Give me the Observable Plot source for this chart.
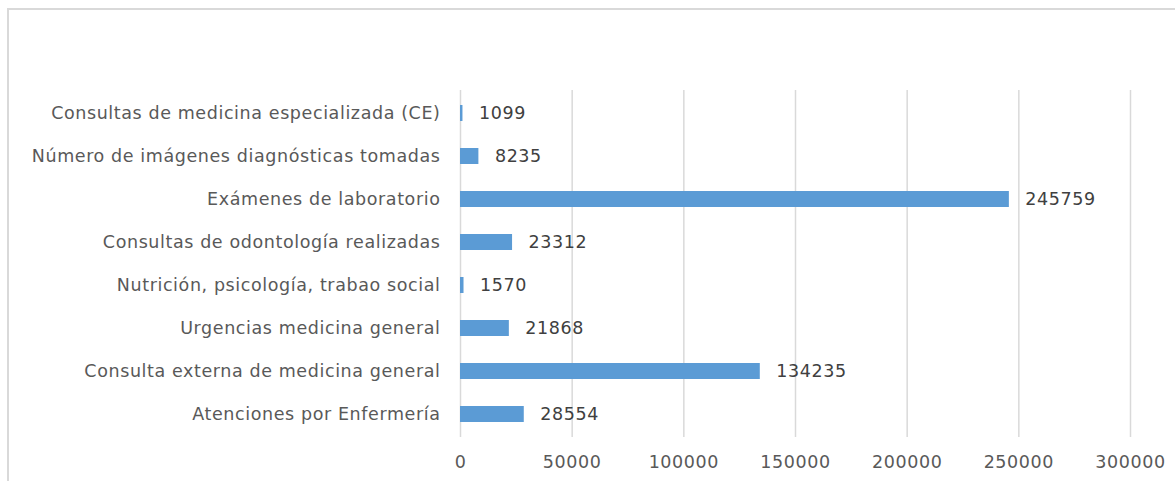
<!DOCTYPE html>
<html><head><meta charset="utf-8">
<script src="https://cdn.jsdelivr.net/npm/d3@7"></script>
<script src="https://cdn.jsdelivr.net/npm/@observablehq/plot@0.6"></script>
<style>
body{margin:0;background:#fff;}
#wrap{position:relative;width:1175px;height:481px;overflow:hidden;}
#frame{position:absolute;left:7px;top:8px;right:-5px;bottom:-5px;border-top:2px solid #d9d9d9;border-left:2px solid #d9d9d9;}
#chart{position:absolute;left:0;top:0;}
#chart svg text{letter-spacing:0.6px;}
</style></head>
<body><div id="wrap"><div id="frame"></div><div id="chart"></div></div>
<script>
const categories = [
  "Consultas de medicina especializada (CE)",
  "Número de imágenes diagnósticas tomadas",
  "Exámenes de laboratorio",
  "Consultas de odontología realizadas",
  "Nutrición, psicología, trabao social",
  "Urgencias medicina general",
  "Consulta externa de medicina general",
  "Atenciones por Enfermería"
];
const values = [1099, 8235, 245759, 23312, 1570, 21868, 134235, 28554];
const xTicks = [0, 50000, 100000, 150000, 200000, 250000, 300000];
const data = categories.map((c, i) => ({category: c, value: values[i]}));

const chart = Plot.plot({
  width: 1175,
  height: 481,
  marginLeft: 460,
  marginRight: 45,
  marginTop: 90,
  marginBottom: 44,
  style: {fontFamily: "DejaVu Sans", fontSize: "17.5px", color: "#595959", background: "transparent"},
  x: {domain: [0, 300000], ticks: xTicks, tickFormat: d => String(d), tickSize: 0, tickPadding: 18, label: null},
  y: {domain: categories, paddingInner: 0.63, paddingOuter: 0.32, tickSize: 0, tickPadding: 20, label: null},
  marks: [
    Plot.gridX(xTicks, {stroke: "#d9d9d9", strokeOpacity: 1, strokeWidth: 1.5}),
    Plot.barX(data, {x: "value", y: "category", fill: "#5b9bd5"}),
    Plot.text(data, {x: "value", y: "category", text: d => String(d.value), textAnchor: "start", dx: 16, fill: "#404040", fontSize: 17.5})
  ]
});
document.getElementById("chart").appendChild(chart);
</script></body></html>
